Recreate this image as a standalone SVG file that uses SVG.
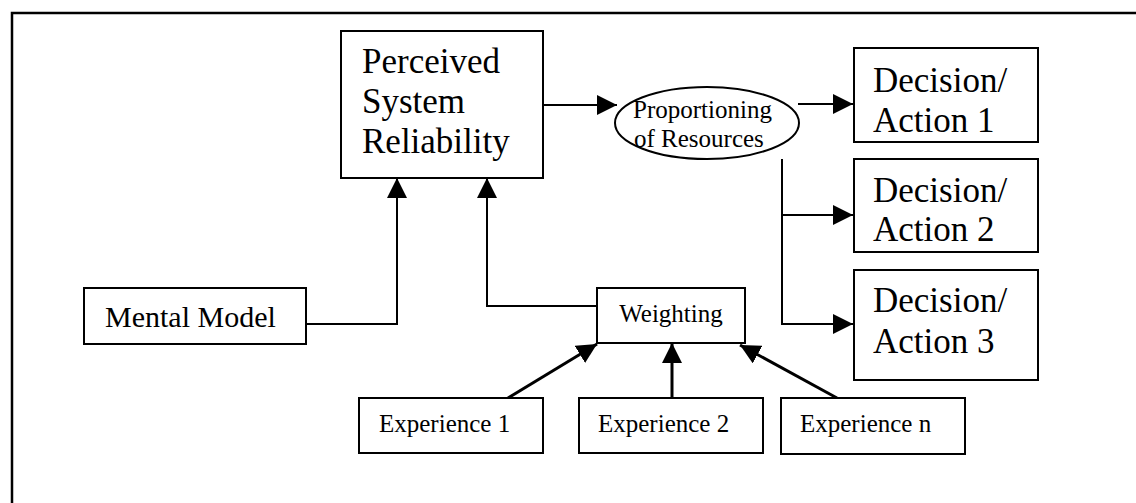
<svg xmlns="http://www.w3.org/2000/svg" width="1136" height="503" viewBox="0 0 1136 503">
<style>
.box{fill:#fff;stroke:#000;stroke-width:2}
.t{font-family:"Liberation Serif","Times New Roman",serif;fill:#000}
.ln{fill:none;stroke:#000;stroke-width:2}
.lt{fill:none;stroke:#000;stroke-width:3}
</style>
<defs>
<marker id="ah" viewBox="0 0 20 20" refX="20" refY="10" markerWidth="20" markerHeight="20" markerUnits="userSpaceOnUse" orient="auto">
<path d="M0,0 L20,10 L0,20 z" fill="#000"/>
</marker>
</defs>
<rect width="1136" height="503" fill="#fff"/>
<g id="frame">
<path d="M12,503 L12,13 L1136,13" fill="none" stroke="#000" stroke-width="2.5"/>
</g>
<g id="connectors">
<path class="ln" d="M543,105 L617,105" marker-end="url(#ah)"/>
<path class="ln" d="M798,104 L853,104" marker-end="url(#ah)"/>
<path class="ln" d="M782,159 L782,324 L853,324" marker-end="url(#ah)"/>
<path class="ln" d="M782,215 L853,215" marker-end="url(#ah)"/>
<path class="ln" d="M306,324 L397,324 L397,178" marker-end="url(#ah)"/>
<path class="ln" d="M597,306 L487,306 L487,178" marker-end="url(#ah)"/>
<path class="lt" d="M508,398 L597,344" marker-end="url(#ah)"/>
<path class="lt" d="M672,398 L672,343" marker-end="url(#ah)"/>
<path class="lt" d="M837,398 L740,345" marker-end="url(#ah)"/>
</g>
<g id="psr">
<rect class="box" x="341" y="31" width="202" height="147"/>
<text class="t" font-size="35" x="362" y="73">Perceived</text>
<text class="t" font-size="35" x="362" y="113">System</text>
<text class="t" font-size="35" x="362" y="153">Reliability</text>
</g>
<g id="proportioning">
<ellipse cx="707" cy="123" rx="92" ry="36" fill="#fff" stroke="#000" stroke-width="2"/>
<text class="t" font-size="25" x="633" y="118">Proportioning</text>
<text class="t" font-size="25" x="634" y="147">of Resources</text>
</g>
<g id="decision1">
<rect class="box" x="854" y="48" width="184" height="94"/>
<text class="t" font-size="35" x="873" y="92">Decision/</text>
<text class="t" font-size="35" x="873" y="132">Action 1</text>
</g>
<g id="decision2">
<rect class="box" x="854" y="159" width="184" height="93"/>
<text class="t" font-size="35" x="873" y="202">Decision/</text>
<text class="t" font-size="35" x="873" y="241">Action 2</text>
</g>
<g id="decision3">
<rect class="box" x="854" y="270" width="184" height="110"/>
<text class="t" font-size="35" x="873" y="312">Decision/</text>
<text class="t" font-size="35" x="873" y="353">Action 3</text>
</g>
<g id="mental-model">
<rect class="box" x="84" y="288" width="222" height="56"/>
<text class="t" font-size="30" x="105" y="327">Mental Model</text>
</g>
<g id="weighting">
<rect class="box" x="597" y="288" width="148" height="55"/>
<text class="t" font-size="25" x="671" y="322" text-anchor="middle">Weighting</text>
</g>
<g id="experience1">
<rect class="box" x="359" y="398" width="184" height="55"/>
<text class="t" font-size="25" x="379" y="432">Experience 1</text>
</g>
<g id="experience2">
<rect class="box" x="579" y="398" width="184" height="55"/>
<text class="t" font-size="25" x="598" y="432">Experience 2</text>
</g>
<g id="experiencen">
<rect class="box" x="781" y="398" width="184" height="56"/>
<text class="t" font-size="25" x="800" y="432">Experience n</text>
</g>
</svg>
